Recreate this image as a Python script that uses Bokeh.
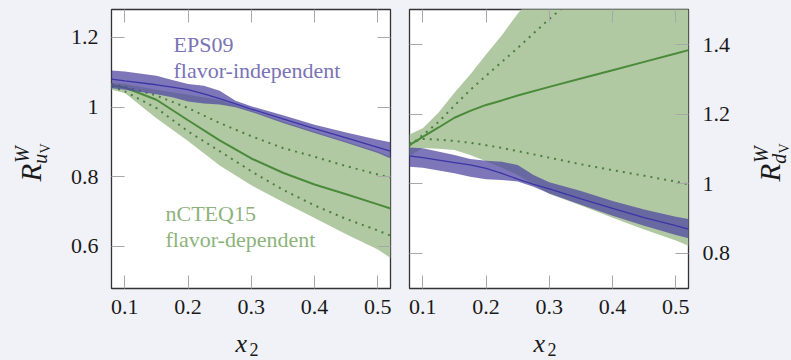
import math
from bokeh.plotting import figure
from bokeh.models import Range1d, FixedTicker, LinearAxis, Label
from bokeh.layouts import row, column
from bokeh.embed import file_html
from bokeh.resources import INLINE

# ---------------- data ----------------
# EPS09 (flavor-independent) bands
x_eps = [0.079, 0.1, 0.15, 0.175, 0.2, 0.225, 0.25, 0.275, 0.3, 0.35, 0.4, 0.45, 0.5, 0.52]
eps_u_upper = [1.105, 1.102, 1.090, 1.078, 1.066, 1.061, 1.047, 1.018, 1.002, 0.976, 0.949, 0.927, 0.906, 0.899]
eps_u_center = [1.080, 1.075, 1.064, 1.057, 1.050, 1.038, 1.024, 1.009, 0.994, 0.966, 0.938, 0.911, 0.884, 0.873]
eps_u_lower = [1.054, 1.050, 1.037, 1.028, 1.016, 1.010, 1.007, 0.999, 0.986, 0.954, 0.925, 0.897, 0.868, 0.852]

eps_d_upper = [1.104, 1.102, 1.083, 1.071, 1.066, 1.063, 1.054, 1.025, 1.004, 0.979, 0.950, 0.926, 0.905, 0.898]
eps_d_center = [1.080, 1.075, 1.061, 1.054, 1.044, 1.030, 1.013, 0.998, 0.985, 0.956, 0.929, 0.902, 0.879, 0.869]
eps_d_lower = [1.049, 1.046, 1.030, 1.020, 1.013, 1.011, 1.006, 0.991, 0.972, 0.939, 0.908, 0.879, 0.852, 0.843]

# nCTEQ15 (flavor-dependent), u_V
x_nc_u = [0.079, 0.1, 0.15, 0.2, 0.25, 0.3, 0.35, 0.4, 0.45, 0.5, 0.52]
nc_u_upper = [1.069, 1.066, 1.050, 1.035, 1.020, 0.990, 0.958, 0.929, 0.901, 0.872, 0.857]
nc_u_center = [1.062, 1.056, 1.021, 0.962, 0.904, 0.852, 0.811, 0.777, 0.749, 0.720, 0.708]
nc_u_lower = [1.050, 1.040, 0.968, 0.902, 0.832, 0.775, 0.727, 0.681, 0.634, 0.590, 0.566]
nc_u_dot_hi = [1.066, 1.059, 1.033, 0.997, 0.954, 0.916, 0.882, 0.857, 0.830, 0.806, 0.797]
nc_u_dot_lo = [1.059, 1.045, 0.997, 0.930, 0.873, 0.815, 0.762, 0.717, 0.678, 0.645, 0.630]

# nCTEQ15 (flavor-dependent), d_V
x_nc_d = [0.079, 0.1, 0.125, 0.15, 0.175, 0.2, 0.225, 0.25, 0.3, 0.35, 0.4, 0.45, 0.5, 0.52]
nc_d_upper = [1.142, 1.160, 1.205, 1.262, 1.315, 1.372, 1.428, 1.490, 1.600, 1.710, 1.820, 1.930, 2.040, 2.080]
nc_d_center = [1.111, 1.135, 1.162, 1.190, 1.210, 1.227, 1.240, 1.254, 1.279, 1.303, 1.327, 1.351, 1.375, 1.385]
nc_d_lower = [1.080, 1.103, 1.101, 1.097, 1.083, 1.065, 1.046, 1.025, 0.970, 0.937, 0.902, 0.868, 0.836, 0.821]
nc_d_dot_hi = [1.110, 1.140, 1.178, 1.225, 1.270, 1.311, 1.351, 1.391, 1.475, 1.550, 1.620, 1.690, 1.750, 1.770]
nc_d_dot_lo = [1.116, 1.129, 1.127, 1.123, 1.118, 1.111, 1.103, 1.094, 1.075, 1.056, 1.039, 1.023, 1.006, 0.998]

x_ticks = [0.1, 0.2, 0.3, 0.4, 0.5]
x_tick_labels = ["0.1", "0.2", "0.3", "0.4", "0.5"]
yl_ticks = [0.6, 0.8, 1.0, 1.2]
yl_tick_labels = ["0.6", "0.8", "1", "1.2"]
yr_ticks = [0.8, 1.0, 1.2, 1.4]
yr_tick_labels = ["0.8", "1", "1.2", "1.4"]

# ---------------- style ----------------
BG = "#f1f2f8"
PURPLE_FILL = "#5248a0"
PURPLE_LINE = "#3b35a6"
GREEN_FILL = "#b0c9a2"
GREEN_LINE = "#4b8a3b"
GREEN_DOT = "#4d7d43"
PURPLE_TXT = "#7a73b6"
GREEN_TXT = "#8db37c"
TXT = "#1a1a1a"
FONT = "Liberation Serif"
BASE = 0.32  # empirical baseline shift of Label (fraction of font size)

ROW_H = 328
FRAME_TOP = 9
FRAME_H = 279


def style_axis(ax, ticks, labels, show):
    ax.ticker = FixedTicker(ticks=ticks)
    ax.major_tick_in = 13
    ax.major_tick_out = 0
    ax.minor_tick_in = 0
    ax.minor_tick_out = 0
    ax.major_tick_line_color = "#a8a8a8"
    ax.major_tick_line_width = 1
    ax.axis_line_color = None
    if show:
        ax.major_label_overrides = dict(zip(ticks, labels))
        ax.major_label_text_font = FONT
        ax.major_label_text_font_size = "22px"
        ax.major_label_text_color = TXT
    else:
        ax.major_label_overrides = {t: "" for t in ticks}
        ax.major_label_text_font_size = "1px"
        ax.major_label_standoff = 0


def make_fig(width, y_range, mbl, mbr):
    p = figure(width=width, height=ROW_H, x_range=Range1d(0.079, 0.52), y_range=y_range,
               output_backend="svg", toolbar_location=None,
               x_axis_location=None, y_axis_location=None,
               min_border_left=mbl, min_border_right=mbr, min_border_top=FRAME_TOP,
               min_border_bottom=ROW_H - FRAME_TOP - FRAME_H)
    p.background_fill_color = "white"
    p.border_fill_color = BG
    p.outline_line_color = "#333333"
    p.outline_line_width = 1.3
    p.xgrid.visible = False
    p.ygrid.visible = False
    return p


def blank_fig(width, height):
    f = figure(width=width, height=height, x_range=Range1d(0, width), y_range=Range1d(0, height),
               output_backend="svg", toolbar_location=None, min_border=0,
               x_axis_location=None, y_axis_location=None)
    f.outline_line_color = None
    f.background_fill_color = BG
    f.border_fill_color = BG
    f.xgrid.visible = False
    f.ygrid.visible = False
    return f


def add_axes(p, yticks, ylabels, ylabel_side):
    bottom = LinearAxis()
    style_axis(bottom, x_ticks, x_tick_labels, True)
    bottom.major_label_standoff = 11
    p.add_layout(bottom, "below")
    top = LinearAxis()
    style_axis(top, x_ticks, x_tick_labels, False)
    p.add_layout(top, "above")
    left = LinearAxis()
    right = LinearAxis()
    style_axis(left, yticks, ylabels, ylabel_side == "left")
    style_axis(right, yticks, ylabels, ylabel_side == "right")
    if ylabel_side == "left":
        left.major_label_standoff = 13
    else:
        right.major_label_standoff = 14
    p.add_layout(left, "left")
    p.add_layout(right, "right")


def txt(p, x, y, s, size, color=TXT, style="normal", rotated=False):
    px = float(size.replace("px", ""))
    if rotated:
        x, angle = x - BASE * px, math.pi / 2
    else:
        y, angle = y + BASE * px, 0.0
    p.add_layout(Label(x=x, y=y, x_units="screen", y_units="screen", text=s,
                       text_font=FONT, text_font_size=size, text_color=color,
                       text_font_style=style, angle=angle,
                       text_align="left", text_baseline="alphabetic"))


def ylabel(p, bx, y0, sub):
    txt(p, bx, y0, "R", "29px", style="italic", rotated=True)
    txt(p, bx - 12, y0 + 18.5, "W", "20px", style="italic", rotated=True)
    txt(p, bx + 6, y0 + 17.7, sub, "20px", style="italic", rotated=True)
    txt(p, bx + 9, y0 + 28, "V", "14px", rotated=True)


# ---------------- left panel ----------------
p1 = make_fig(341, Range1d(0.478, 1.2805), 53, 9)
add_axes(p1, yl_ticks, yl_tick_labels, "left")
p1.varea(x=x_nc_u, y1=nc_u_lower, y2=nc_u_upper, fill_color=GREEN_FILL)
p1.line(x_nc_u, nc_u_dot_hi, line_color=GREEN_DOT, line_width=2, line_dash="2 5")
p1.line(x_nc_u, nc_u_dot_lo, line_color=GREEN_DOT, line_width=2, line_dash="2 5")
p1.line(x_nc_u, nc_u_center, line_color=GREEN_LINE, line_width=2)
p1.varea(x=x_eps, y1=eps_u_lower, y2=eps_u_upper, fill_color=PURPLE_FILL, fill_alpha=0.75)
p1.line(x_eps, eps_u_center, line_color=PURPLE_LINE, line_width=1.3)

txt(p1, 62, 237, "EPS09", "22px", color=PURPLE_TXT)
txt(p1, 62, 211, "flavor-independent", "22px", color=PURPLE_TXT)
txt(p1, 54, 68, "nCTEQ15", "22px", color=GREEN_TXT)
txt(p1, 54, 42, "flavor-dependent", "22px", color=GREEN_TXT)

# ---------------- right panel ----------------
p2 = make_fig(344, Range1d(0.698, 1.502), 10, 55)
add_axes(p2, yr_ticks, yr_tick_labels, "right")
p2.varea(x=x_nc_d, y1=nc_d_lower, y2=nc_d_upper, fill_color=GREEN_FILL)
p2.line(x_nc_d, nc_d_dot_hi, line_color=GREEN_DOT, line_width=2, line_dash="2 5")
p2.line(x_nc_d, nc_d_dot_lo, line_color=GREEN_DOT, line_width=2, line_dash="2 5")
p2.line(x_nc_d, nc_d_center, line_color=GREEN_LINE, line_width=2)
p2.varea(x=x_eps, y1=eps_d_lower, y2=eps_d_upper, fill_color=PURPLE_FILL, fill_alpha=0.75)
p2.line(x_eps, eps_d_center, line_color=PURPLE_LINE, line_width=1.3)

# ---------------- axis titles (side strips; their frames align with the panels) ----------------
ya = blank_fig(58, ROW_H)
ylabel(ya, 40, 107, "u")
yb = blank_fig(48, ROW_H)
ylabel(yb, 36, 107, "d")

xc = blank_fig(791, 360 - ROW_H)
for x0 in (235, 533):
    txt(xc, x0, 9, "x", "26px", style="italic")
    txt(xc, x0 + 14, 5, "2", "18px")

layout = column(row(ya, p1, p2, yb), xc)
html = file_html(layout, INLINE, title="R_W")
html = html.replace("<head>", "<head><style>body{background:%s;}</style>" % BG, 1)
open("out.html", "w").write(html)
